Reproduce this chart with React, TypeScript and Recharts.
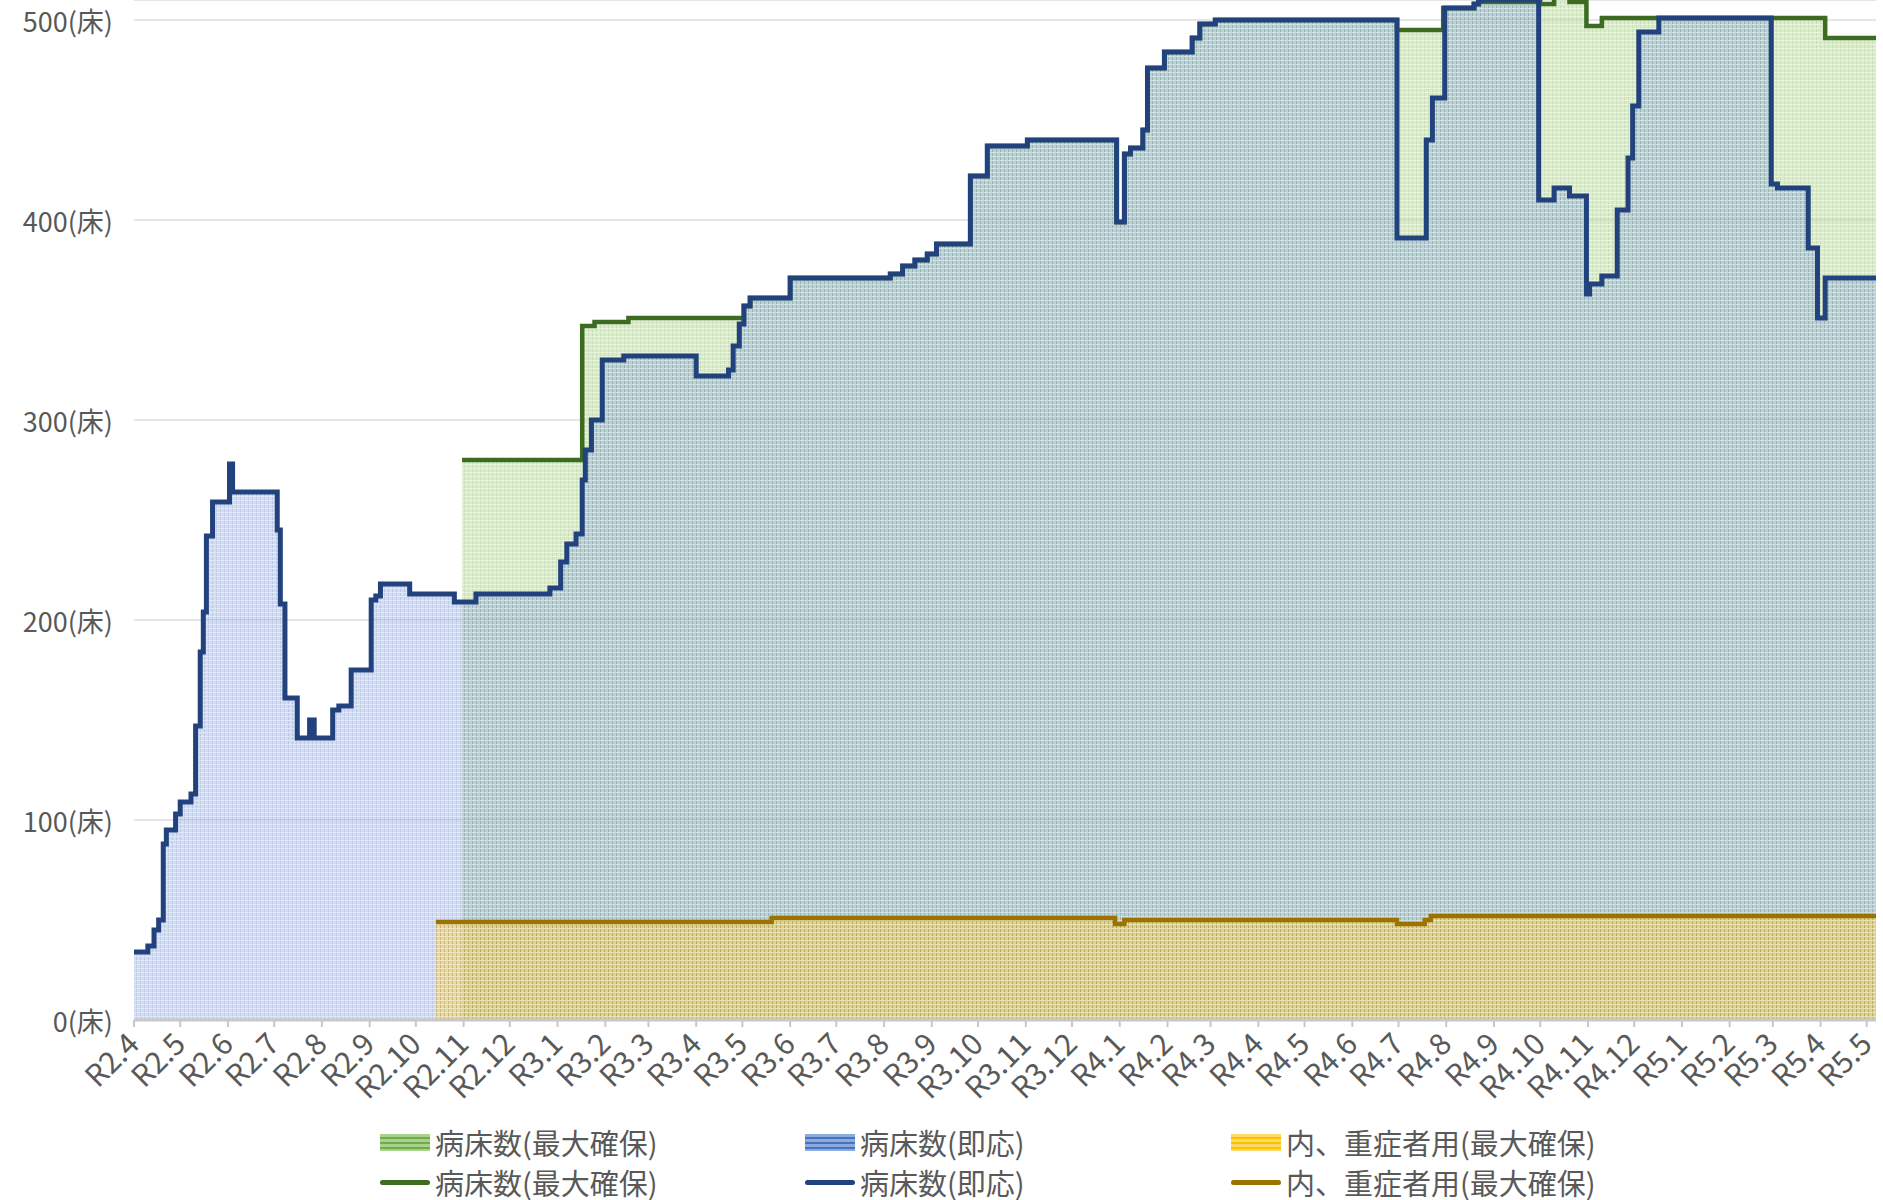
import React from "react";
import { ComposedChart, Area, Line, XAxis, YAxis, CartesianGrid } from "recharts";

// x = R2.4.1 (2020-04-01) からの経過日数, y = 病床数
const maxBeds: [number, number][] = [
  [213, 280], [291, 347], [299, 349], [321, 351], [396, 357], [400, 361], [426, 371],
  [491, 373], [499, 377], [507, 380], [515, 383], [521, 388], [543, 422], [554, 437],
  [580, 440], [638, 399], [643, 433], [647, 436], [655, 445], [658, 476], [669, 484],
  [687, 491], [692, 498], [702, 500], [820, 495], [850, 506], [870, 508], [873, 509],
  [913, 508], [922, 512], [932, 509], [943, 497], [953, 501], [1098, 491], [1131, 491],
];

const readyBeds: [number, number][] = [
  [0, 34], [9, 37], [13, 45], [16, 50], [19, 88], [21, 95], [27, 103], [30, 109],
  [37, 113], [40, 147], [43, 184], [45, 204], [47, 242], [51, 259], [62, 278], [64, 264],
  [93, 245], [95, 208], [98, 161], [106, 141], [114, 150], [117, 141], [129, 155],
  [133, 157], [141, 175], [154, 210], [157, 212], [160, 218], [179, 213], [208, 209],
  [222, 213], [270, 216], [277, 229], [281, 238], [287, 243], [291, 270], [293, 285],
  [297, 300], [304, 330], [318, 332], [365, 322], [386, 325], [389, 337], [393, 348],
  [396, 357], [400, 361], [426, 371], [491, 373], [499, 377], [507, 380], [515, 383],
  [521, 388], [543, 422], [554, 437], [580, 440], [638, 399], [643, 433], [647, 436],
  [655, 445], [658, 476], [669, 484], [687, 491], [692, 498], [702, 500], [820, 391],
  [839, 440], [843, 461], [851, 506], [870, 508], [873, 510], [912, 410], [922, 416],
  [932, 412], [943, 363], [945, 368], [953, 372], [963, 405], [970, 431], [973, 457],
  [977, 494], [990, 501], [1063, 418], [1067, 416], [1087, 386], [1093, 351],
  [1098, 371], [1131, 371],
];

const severeBeds: [number, number][] = [
  [196, 49], [414, 51], [637, 48], [643, 50], [820, 48], [838, 50], [842, 52], [1131, 52],
];

const monthLabels = [
  "R2.4", "R2.5", "R2.6", "R2.7", "R2.8", "R2.9", "R2.10", "R2.11", "R2.12",
  "R3.1", "R3.2", "R3.3", "R3.4", "R3.5", "R3.6", "R3.7", "R3.8", "R3.9", "R3.10", "R3.11", "R3.12",
  "R4.1", "R4.2", "R4.3", "R4.4", "R4.5", "R4.6", "R4.7", "R4.8", "R4.9", "R4.10", "R4.11", "R4.12",
  "R5.1", "R5.2", "R5.3", "R5.4", "R5.5",
];

const yTicks = [0, 100, 200, 300, 400, 500];

const TEXT = "#595959";
const FONT = "'Noto Sans CJK JP', 'Noto Sans', sans-serif";

const dayOf = (label: string) => {
  const [r, m] = label.slice(1).split(".").map(Number);
  return Math.round((Date.UTC(2018 + r, m - 1, 1) - Date.UTC(2020, 3, 1)) / 86400000);
};
const monthTicks = monthLabels.map(dayOf);
const labelOf: Record<number, string> = {};
monthTicks.forEach((d, i) => (labelOf[d] = monthLabels[i]));

// 各系列の値を階段状に持ち越して1つの表にする
const valueAt = (series: [number, number][], day: number) => {
  let v: number | null = null;
  for (const [d, val] of series) {
    if (d <= day) v = val;
    else break;
  }
  return v;
};
const days = Array.from(
  new Set([...maxBeds, ...readyBeds, ...severeBeds].map((p) => p[0]))
).sort((a, b) => a - b);
const rows = days.map((day) => ({
  day,
  max: valueAt(maxBeds, day),
  ready: valueAt(readyBeds, day),
  severe: valueAt(severeBeds, day),
}));

const XTick = (props: any) => {
  const { x, y, payload } = props;
  const ax = x + 7;
  const ay = y + 17;
  return (
    <text
      x={ax}
      y={ay}
      transform={`rotate(-45 ${ax} ${ay})`}
      textAnchor="end"
      fontSize={30}
      fill={TEXT}
      fontFamily={FONT}
    >
      {labelOf[payload.value]}
    </text>
  );
};

const YTick = (props: any) => {
  const { y, payload } = props;
  return (
    <text x={113} y={y} dy={12} textAnchor="end" fontSize={27} fill={TEXT} fontFamily={FONT}>
      {`${payload.value}(床)`}
    </text>
  );
};

const legendItems = [
  { label: "病床数(最大確保)", area: "repeating-linear-gradient(#a9d18e 0 3px, #70ad47 3px 5px)", line: "#3d6b21", left: 380 },
  { label: "病床数(即応)", area: "repeating-linear-gradient(#8eaadb 0 3px, #4472c4 3px 5px)", line: "#22427e", left: 805 },
  { label: "内、重症者用(最大確保)", area: "repeating-linear-gradient(#ffd966 0 3px, #ffc000 3px 5px)", line: "#9c7300", left: 1231 },
];

export default function App() {
  return (
    <div style={{ position: "absolute", left: 0, top: 0, width: 1883, height: 1200, background: "#fff", fontFamily: FONT }}>
      <ComposedChart width={1883} height={1120} data={rows} margin={{ top: 0, right: 7, bottom: 0, left: 0 }}>
        <defs>
          <pattern id="pGreen" width="4" height="4" patternUnits="userSpaceOnUse">
            <rect width="4" height="4" fill="#a3d27a" />
            <rect width="1" height="4" fill="#72b040" />
            <rect width="4" height="1" fill="#c4e3a6" />
          </pattern>
          <pattern id="pBlue" width="4" height="4" patternUnits="userSpaceOnUse">
            <rect width="4" height="4" fill="#86a3e4" />
            <rect width="1" height="4" fill="#466abd" />
            <rect width="4" height="1" fill="#a9bfee" />
          </pattern>
          <pattern id="pYellow" width="4" height="4" patternUnits="userSpaceOnUse">
            <rect width="4" height="4" fill="#ffd34a" />
            <rect width="1" height="4" fill="#dca400" />
            <rect width="4" height="1" fill="#ffe48a" />
          </pattern>
        </defs>
        <CartesianGrid horizontal vertical={false} stroke="#dcdcdc" strokeWidth={1.5} />
        <XAxis
          dataKey="day"
          type="number"
          domain={[0, 1131]}
          ticks={monthTicks}
          interval={0}
          height={100}
          tick={<XTick />}
          axisLine={{ stroke: "#c8c8c8", strokeWidth: 3 }}
          tickLine={{ stroke: "#c8c8c8", strokeWidth: 2 }}
          tickSize={7}
        />
        <YAxis
          type="number"
          domain={[0, 510]}
          allowDataOverflow
          ticks={yTicks}
          width={134}
          tick={<YTick />}
          axisLine={false}
          tickLine={false}
        />
        <Area type="stepAfter" dataKey="max" stroke="none" fill="url(#pGreen)" fillOpacity={0.4} isAnimationActive={false} />
        <Area type="stepAfter" dataKey="ready" stroke="none" fill="url(#pBlue)" fillOpacity={0.37} isAnimationActive={false} />
        <Area type="stepAfter" dataKey="severe" stroke="none" fill="url(#pYellow)" fillOpacity={0.5} isAnimationActive={false} />
        <Line type="stepAfter" dataKey="severe" stroke="#9c7300" strokeWidth={4.5} dot={false} isAnimationActive={false} />
        <Line type="stepAfter" dataKey="max" stroke="#3d6b21" strokeWidth={4.5} dot={false} isAnimationActive={false} />
        <Line type="stepAfter" dataKey="ready" stroke="#22427e" strokeWidth={5} dot={false} isAnimationActive={false} />
      </ComposedChart>
      {legendItems.map((it) => (
        <React.Fragment key={it.label}>
          <div style={{ position: "absolute", left: it.left, top: 1124, display: "flex", alignItems: "center", height: 36 }}>
            <div style={{ width: 50, height: 17, background: it.area, marginRight: 5 }} />
            <span style={{ fontSize: 29, color: TEXT, whiteSpace: "nowrap" }}>{it.label}</span>
          </div>
          <div style={{ position: "absolute", left: it.left, top: 1164, display: "flex", alignItems: "center", height: 36 }}>
            <div style={{ width: 50, height: 5, borderRadius: 3, background: it.line, marginRight: 5 }} />
            <span style={{ fontSize: 29, color: TEXT, whiteSpace: "nowrap" }}>{it.label}</span>
          </div>
        </React.Fragment>
      ))}
    </div>
  );
}
